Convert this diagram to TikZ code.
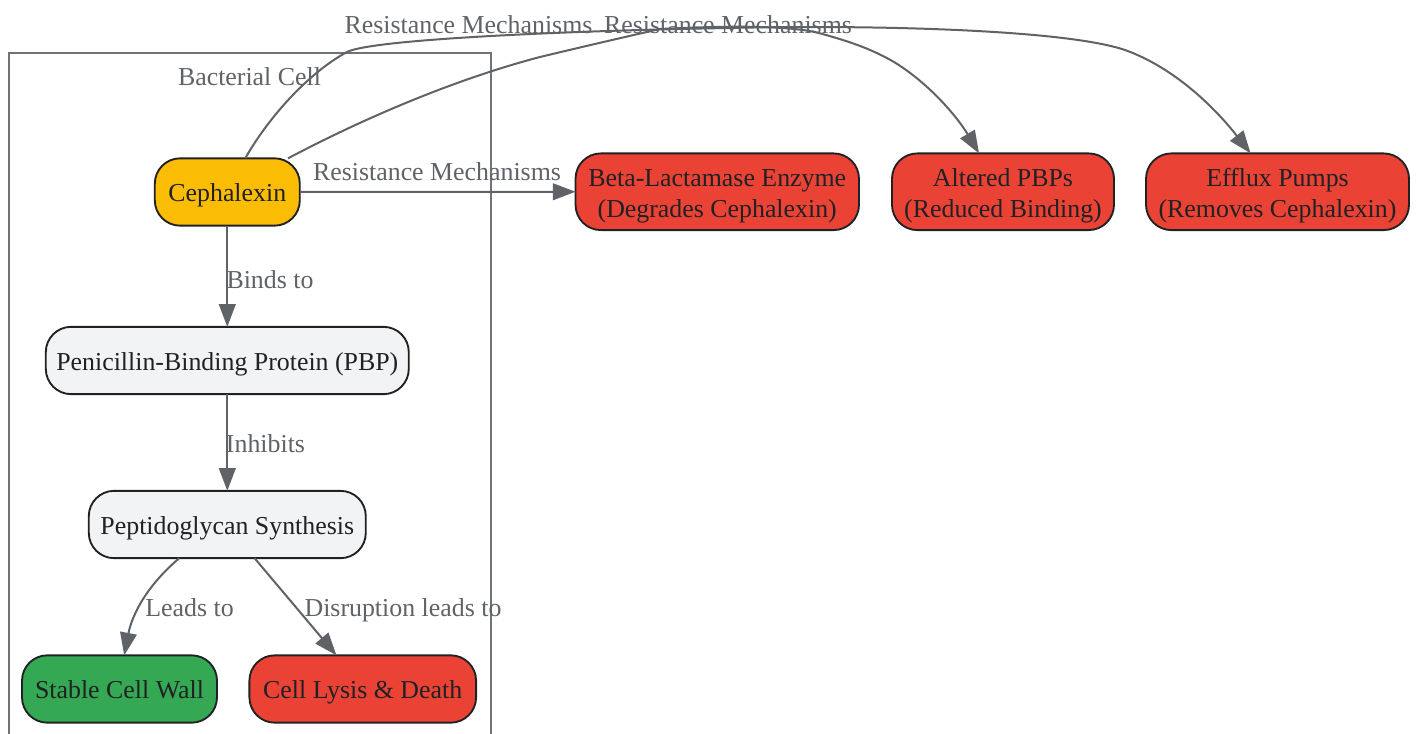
\documentclass[tikz,border=0pt]{standalone}
\usepackage{fontspec}
\setmainfont{Liberation Serif}
\usetikzlibrary{arrows.meta}
\definecolor{edgegray}{HTML}{5F6368}
\definecolor{inkdark}{HTML}{202124}
\definecolor{boxgray}{HTML}{F1F3F4}
\definecolor{boxyellow}{HTML}{FBBC04}
\definecolor{boxred}{HTML}{EA4335}
\definecolor{boxgreen}{HTML}{34A853}
\tikzset{
  box/.style={draw=inkdark,line width=1.4pt,rounded corners=19pt,inner sep=0pt,outer sep=0pt,align=center,text=inkdark,
    font=\fontsize{19.4}{23.25}\selectfont,
    execute at begin node={\rule{0pt}{19.9pt}},
    execute at end node={\rule[-5pt]{0pt}{5pt}}},
  tallbox/.style={box,minimum height=57.5pt,text height=37.9pt,text depth=0pt},
  lbl/.style={inner sep=0pt,text=edgegray,font=\fontsize{19.4}{23.25}\selectfont},
  conn/.style={draw=edgegray,line width=1.5pt,-{Triangle[length=17pt,width=12.5pt]}}
}
\begin{document}
\begin{tikzpicture}[x=0.75pt,y=-0.75pt]
\useasboundingbox (0,0) rectangle (1417,734);
\fill[white] (0,0) rectangle (1417,734);
% cluster
\coordinate (cbl) at (8.5,734);
\coordinate (cbr) at (491,734);
\draw[draw=edgegray!90!white,line width=1.5pt] (cbl) -- (8.5,53) -- (491,53) -- (cbr);
% nodes
\node[box,fill=boxyellow,minimum width=108.75pt,minimum height=50.5pt] (ceph) at (227.3,192) {Cephalexin};
\node[box,fill=boxgray,minimum width=272.25pt,minimum height=50.5pt] (pbp) at (227.3,360.5) {Penicillin-Binding Protein (PBP)};
\node[box,fill=boxgray,minimum width=207.75pt,minimum height=50.5pt] (pep) at (227.3,524.5) {Peptidoglycan Synthesis};
\node[box,fill=boxgreen,minimum width=146.25pt,minimum height=50.5pt] (wall) at (119.5,689) {Stable Cell Wall};
\node[box,fill=boxred,minimum width=170pt,minimum height=50.5pt] (lysis) at (362.75,689) {Cell Lysis \& Death};
\node[tallbox,fill=boxred,minimum width=212.6pt] (beta) at (717.25,191.75) {Beta-Lactamase Enzyme\\(Degrades Cephalexin)};
\node[tallbox,fill=boxred,minimum width=166.5pt] (alt) at (1003,191.75) {Altered PBPs\\(Reduced Binding)};
\node[tallbox,fill=boxred,minimum width=197.25pt] (eff) at (1277.5,191.75) {Efflux Pumps\\(Removes Cephalexin)};
% connectors
\draw[conn] (ceph) -- (pbp);
\draw[conn] (pbp) -- (pep);
\draw[conn] (pep.215) .. controls (142,590) and (131,620) .. (wall.82);
\draw[conn] (pep.-51.6) -- (lysis.128.4);
\draw[conn] (ceph.east) -- (beta.west);
\draw[conn] (ceph.29) .. controls (370,115) and (460,78) .. (540,57)
  .. controls (590,45) and (625,37) .. (660,29)
  .. controls (720,26) and (780,25) .. (815,32)
  .. controls (845,40) and (870,48) .. (894,62)
  .. controls (930,84) and (958,118) .. (alt.122);
\draw[conn] (ceph.62.8) .. controls (270,115) and (310,72) .. (347,52)
  .. controls (375,38) and (600,30) .. (730,28)
  .. controls (850,25) and (1060,28) .. (1125,50)
  .. controls (1175,68) and (1215,108) .. (eff.125.5);
% labels
\node[lbl] (tc) at (249.5,77) {Bacterial Cell};
\node[lbl] (l1) at (468.5,24.5) {Resistance Mechanisms};
\node[lbl] (l2) at (728,24.5) {Resistance Mechanisms};
\node[lbl] (l3) at (437,172) {Resistance Mechanisms};
\node[lbl] (l4) at (270,280) {Binds to};
\node[lbl] (l5) at (265.5,444) {Inhibits};
\node[lbl] (l6) at (189.5,608) {Leads to};
\node[lbl] (l7) at (403,610) {Disruption leads to};
\end{tikzpicture}
\end{document}
